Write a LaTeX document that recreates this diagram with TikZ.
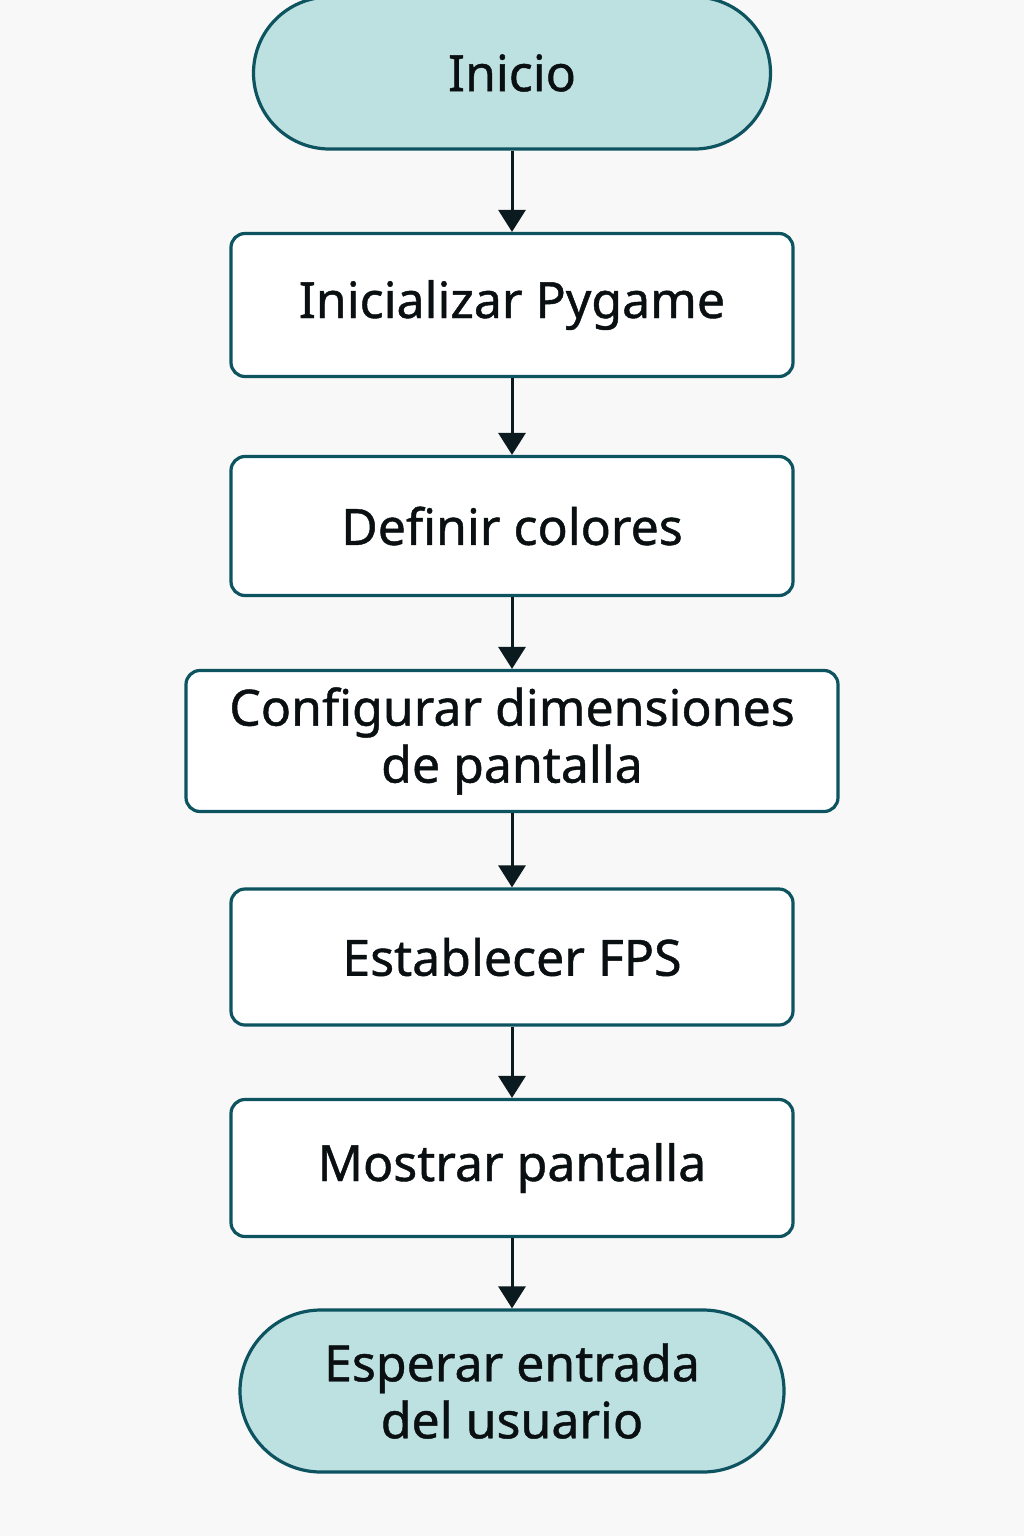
\documentclass[tikz,border=0pt]{standalone}
\usepackage{fontspec}
\setmainfont{Noto Sans}[FakeBold=0.9]
\usetikzlibrary{arrows.meta}

\definecolor{boxline}{HTML}{0E5460}
\definecolor{termfill}{HTML}{BDE0E0}
\definecolor{pagebg}{HTML}{F8F8F8}
\definecolor{arrowink}{HTML}{0B1A1E}
\definecolor{inktext}{HTML}{0A0F12}

\tikzstyle{process}=[draw=boxline,line width=3.2pt,fill=white,rounded corners=14pt,align=center,text=inktext,font=\fontsize{50}{57}\selectfont]
\tikzstyle{terminal}=[process,fill=termfill]
\tikzstyle{arrowdecorate}=[-{Triangle[width=27pt,length=22pt]},line width=3pt,draw=arrowink]

\begin{document}
\begin{tikzpicture}[x=1pt,y=1pt]
    \fill[pagebg] (0,0) rectangle (1024,-1536);
    \useasboundingbox (0,0) rectangle (1024,-1536);

    \foreach \nodename/\txt/\y/\w/\h/\kind/\r in {
      start/Inicio/73/517/152/terminal/76,
      init/Inicializar Pygame/305/562/143/process/14,
      colors/Definir colores/526/562/139/process/14,
      dims/{Configurar dimensiones\\de pantalla}/741/652/141/process/14,
      fps/Establecer FPS/957/562/136/process/14,
      show/Mostrar pantalla/1168/562/137/process/14,
      wait/{Esperar entrada\\del usuario}/1391/544/162/terminal/81}
    {
      \node[\kind, minimum width=\w pt, minimum height=\h pt, rounded corners=\r pt] (\nodename) at (512,-\y) {\txt};
    }

    %edges
    \path
    \foreach \startnode/\endnode in {
      start/init, init/colors, colors/dims, dims/fps, fps/show, show/wait}
    {
      (\startnode) edge[arrowdecorate] (\endnode)
    };

\end{tikzpicture}
\end{document}
